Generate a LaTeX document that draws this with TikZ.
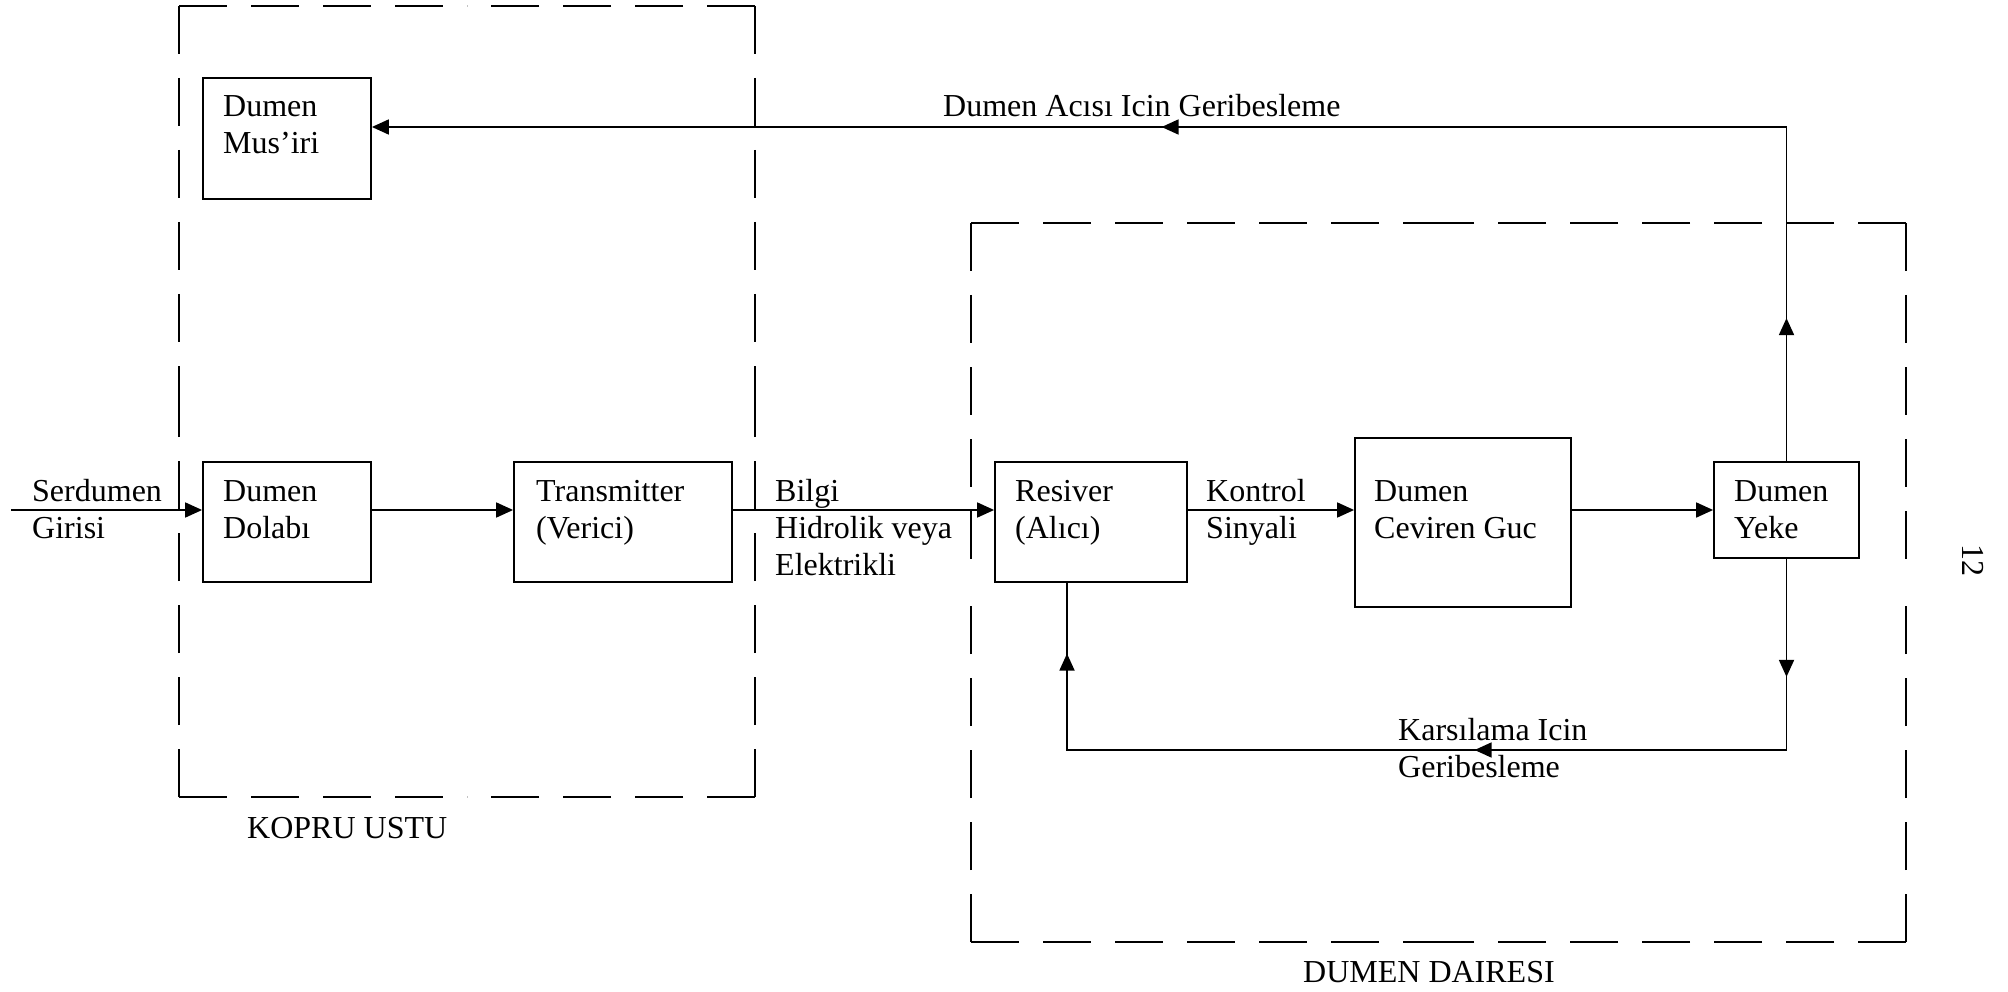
\documentclass[tikz,border=0pt]{standalone}
\usepackage{fontspec}
\setmainfont{Liberation Serif}
\usetikzlibrary{arrows.meta,decorations.markings,calc}

\tikzset{
  tri/.tip={Triangle[length=17pt,width=15pt]},
  box/.style={draw, line width=1.8pt, rectangle, inner sep=0pt},
  conn/.style={line width=1.8pt},
  frame/.style={line width=1.8pt, dash pattern=on 48pt off 24pt},
  % multi-line labels are anchored at the baseline of their last line
  lbl/.style={anchor=base west, align=left, inner sep=0pt, font=\fontsize{32}{37}\selectfont},
  midtip/.style={postaction={decorate,decoration={markings,
      mark=at position #1 with {\arrow{tri}}}}}
}

% dashed side drawn from both corners towards its middle, so corners stay solid
\newcommand\framedside[2]{%
  \draw[frame] (#1) -- ($(#1)!0.5!(#2)$);
  \draw[frame] (#2) -- ($(#1)!0.5!(#2)$);}

\begin{document}
\begin{tikzpicture}[x=1pt,y=-1pt]
\useasboundingbox (0,0) rectangle (2008,992);

% group frames
\coordinate (kNW) at (179,6);   \coordinate (kNE) at (755,6);
\coordinate (kSW) at (179,797); \coordinate (kSE) at (755,797);
\coordinate (dNW) at (971,223); \coordinate (dNE) at (1906,223);
\coordinate (dSW) at (971,942); \coordinate (dSE) at (1906,942);
\framedside{kNW}{kNE}\framedside{kNW}{kSW}\framedside{kSW}{kSE}\framedside{kNE}{kSE}
\framedside{dNW}{dNE}\framedside{dNW}{dSW}\framedside{dSW}{dSE}\framedside{dNE}{dSE}
\node[lbl] (kopru) at (247,838) {KOPRU USTU};
\node[lbl] (daire) at (1303,982) {DUMEN DAIRESI};

% blocks
\node[box, minimum width=168pt, minimum height=121pt] (mus) at (287,138.5) {};
\node[box, minimum width=168pt, minimum height=120pt] (dol) at (287,522) {};
\node[box, minimum width=218pt, minimum height=120pt] (trn) at (623,522) {};
\node[box, minimum width=192pt, minimum height=120pt] (res) at (1091,522) {};
\node[box, minimum width=216pt, minimum height=169pt] (cev) at (1463,522.5) {};
\node[box, minimum width=145pt, minimum height=96pt] (yek) at (1786.5,510) {};

% block texts
\node[lbl] (musT) at (223,154) {Dumen\\Mus’iri};
\node[lbl] (dolT) at (223,538) {Dumen\\Dolabı};
\node[lbl] (trnT) at (536,538) {Transmitter\\(Verici)};
\node[lbl] (resT) at (1015,538) {Resiver\\(Alıcı)};
\node[lbl] (cevT) at (1374,538) {Dumen\\Ceviren Guc};
\node[lbl] (yekT) at (1734,538) {Dumen\\Yeke};

% signal labels
\node[lbl] (inT) at (32,538) {Serdumen\\Girisi};
\node[lbl] (bilT) at (775,575) {Bilgi\\Hidrolik veya\\Elektrikli};
\node[lbl] (konT) at (1206,538) {Kontrol\\Sinyali};
\node[lbl] (fbTopT) at (943,117) {Dumen Acısı Icin Geribesleme};
\node[lbl] (fbBotT) at (1398,777) {Karsılama Icin\\Geribesleme};

% page number
\node[font=\fontsize{32}{37}\selectfont, rotate=-90, inner sep=0pt] (pg) at (1973,560) {12};

% forward path
\coordinate (inp) at (11,510);
\draw[conn,-tri] (inp) -- (dol.west |- inp);
\draw[conn,-tri] (dol.east |- inp) -- (trn.west |- inp);
\draw[conn,-tri] (trn.east |- inp) -- (res.west |- inp);
\draw[conn,-tri] (res.east |- inp) -- (cev.west |- inp);
\draw[conn,-tri] (cev.east |- inp) -- (yek.west);

% rudder angle feedback
\coordinate (fbT) at (yek.north |- 0,127);
\draw[conn,-tri,midtip=143pt,midtip=959pt] (yek.north) -- (fbT) -- (mus.east |- fbT);

% follow-up feedback
\coordinate (fbB) at (yek.south |- 0,750);
\coordinate (fbL) at (1067,750);
\draw[conn,midtip=118pt,midtip=503pt,midtip=1007pt]
  (yek.south) -- (fbB) -- (fbL) -- (fbL |- res.south);
\end{tikzpicture}
\end{document}
